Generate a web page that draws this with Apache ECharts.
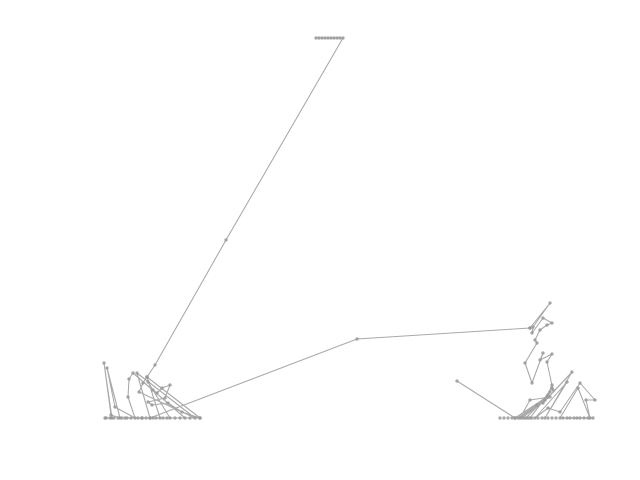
<!DOCTYPE html>
<html><head><meta charset="utf-8">
<script src="https://cdn.jsdelivr.net/npm/echarts@6/dist/echarts.min.js"></script>
<style>html,body{margin:0;padding:0;background:#fff}#c{width:640px;height:480px}</style>
</head><body><div id="c"></div>
<script>
// Values (x, y) in chart units
const trackLeft = [[105,62],[112,62],[104,117],[111,65],[120,62],[107,112],[115,73],[135,62],[128,83],[129,101],[133,107],[185,62],[150,62],[137,107],[195,62],[139,88],[143,97],[147,103],[200,62],[170,62],[148,98],[153,90],[157,87],[162,92],[170,95],[165,82],[148,78],[152,75],[168,77],[182,68],[200,62],[160,62],[147,103],[155,115],[226,240],[343,442],[340,442],[337,442],[334,442],[331,442],[328,442],[325,442],[322,442],[319,442],[316,442]];
const trackBridge = [[125,62],[142,62],[150,62],[357,141],[530,152]];
const trackRight = [[530,152],[550,177],[533,153],[532,147],[543,162],[552,157],[547,155],[540,150],[535,140],[537,137],[525,117],[532,97],[543,127],[540,120],[552,126],[547,118],[553,90],[552,95],[547,83],[515,62],[550,83],[530,80],[520,62],[537,75],[543,77],[572,108],[545,62],[567,98],[535,62],[548,72],[560,68],[580,97],[595,80],[586,80],[590,62],[578,92],[560,62],[570,62],[580,62],[593,62]];
const trackBundle = [[518,62],[545,80],[522,62],[548,85],[526,62],[550,88],[530,62],[552,92]];
const trackStray = [[457,99],[515,62]];
const baseLeft = [[106,62],[110,62],[114,62],[118,62],[122,62],[127,62],[131,62],[138,62],[142,62],[146,62],[153,62],[156,62],[163,62],[167,62],[175,62],[180,62],[190,62]];
const baseRight = [[500,62],[504,62],[508,62],[512,62],[524,62],[528,62],[532,62],[538,62],[542,62],[548,62],[552,62],[556,62],[563,62],[567,62],[574,62],[577,62],[584,62],[588,62]];

const lineStyle = {color:'#aaaaaa', width:1.1};
const itemStyle = {color:'#999', opacity:0.85};
function mk(data, showLine){
  return {type:'line', data:data, symbol:'circle', symbolSize:3.5, showSymbol:true,
    lineStyle: showLine ? lineStyle : {width:0, opacity:0}, itemStyle:itemStyle, animation:false, silent:true};
}
const chart = echarts.init(document.getElementById('c'));
chart.setOption({
  backgroundColor:'#fff',
  grid:{left:0,right:0,top:0,bottom:0},
  xAxis:{type:'value',min:0,max:640,show:false},
  yAxis:{type:'value',min:0,max:480,show:false},
  series:[mk(trackLeft,true),mk(trackBridge,true),mk(trackRight,true),mk(trackBundle,true),mk(trackStray,true),mk(baseLeft,false),mk(baseRight,false)]
});
</script></body></html>
